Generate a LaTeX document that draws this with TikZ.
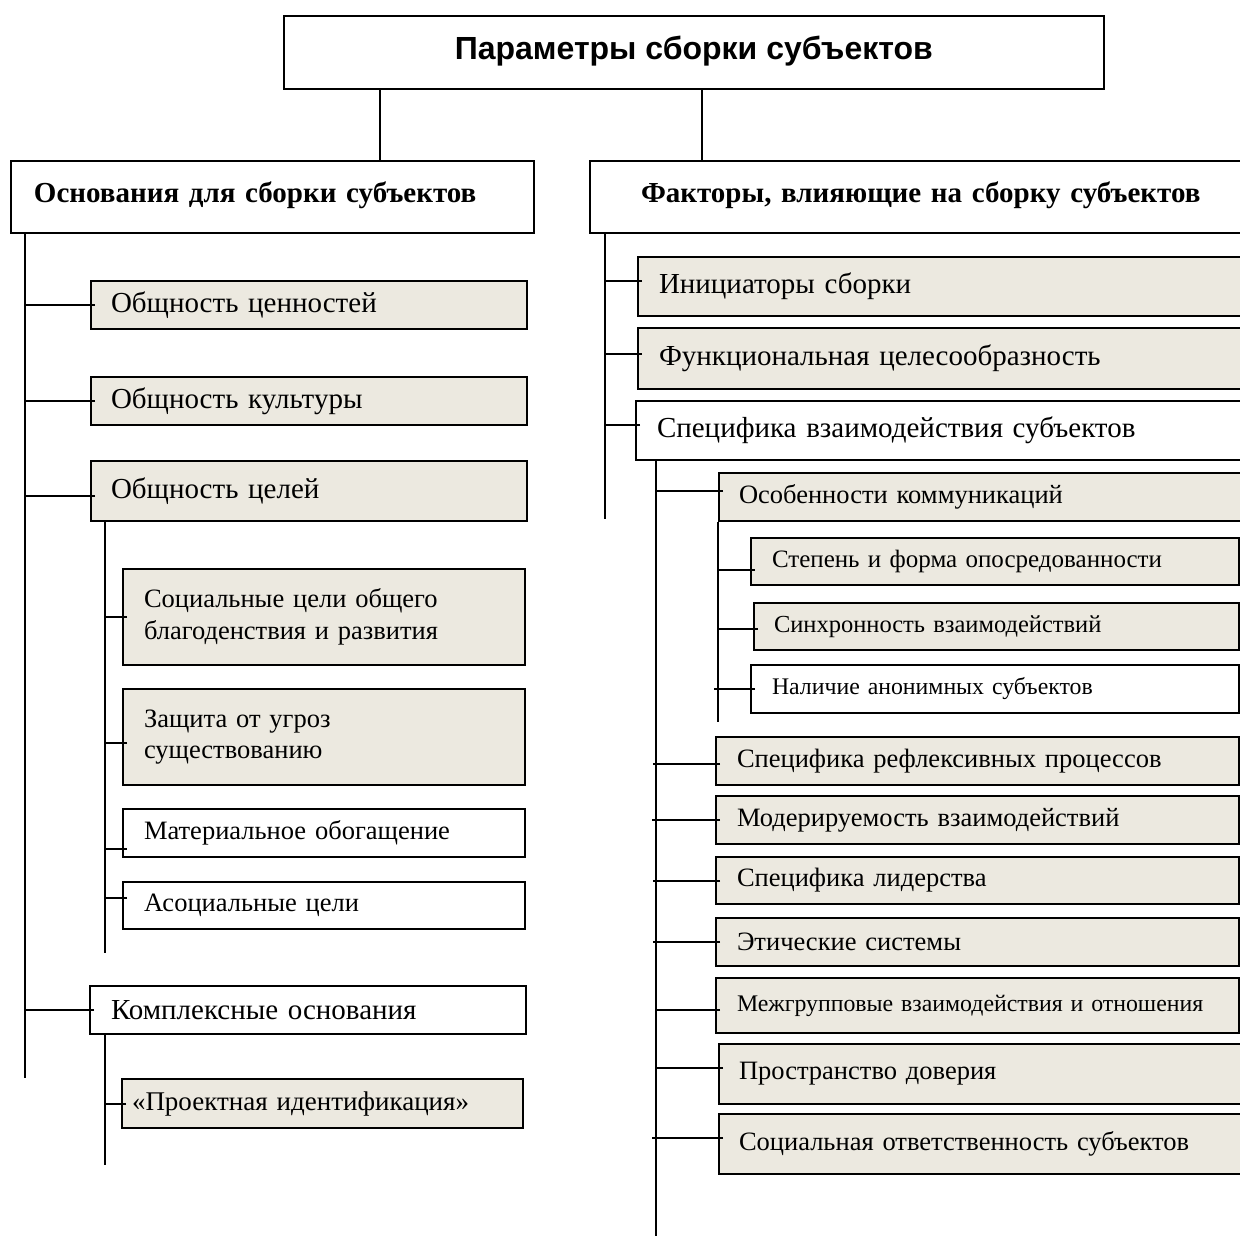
\documentclass[tikz,border=0pt]{standalone}
\usepackage{fontspec}
\setmainfont{Liberation Serif}
\newfontfamily\sansfam{Liberation Sans}
\definecolor{boxfill}{RGB}{236,233,224}
\newcommand\fsz[1]{\fontsize{#1pt}{\dimexpr #1pt*6/5\relax}\selectfont}
\newcommand\mkbox[8]{%
  \pgfmathsetmacro\bxw{#4-#2}%
  \pgfmathsetmacro\bxh{#5-#3}%
  \pgfmathsetmacro\bxt{#4-#2-2*#7}%
  \node[#6, anchor=north west, minimum width=\bxw pt, minimum height=\bxh pt,
        inner xsep=#7pt, inner ysep=0pt, text width=\bxt pt, align=left] (#1) at (#2,#3) {#8};}
\newcommand\mkconn[4]{%
  \path ([yshift={-(#3)*1pt}, xshift=5pt]#1.west) coordinate (cA);
  \path (cA -| #2) coordinate (cB);
  \draw[conn] (cA) -- ([xshift={-(#4)*1pt}]cB);}
\begin{document}
\begin{tikzpicture}[x=1pt,y=-1pt,
  conn/.style={line width=2pt, black},
  plain/.style={draw=black, line width=2pt, fill=white},
  shaded/.style={draw=black, line width=2pt, fill=boxfill},
  fbig/.style={font=\fsz{29}},
  fmid/.style={font=\fsz{26.5}},
  fsml/.style={font=\fsz{24.5}},
  fhdr/.style={font=\bfseries\fsz{29}}]
\useasboundingbox (0,0) rectangle (1240,1236);
\clip (0,0) rectangle (1240,1236);
\fill[white] (0,0) rectangle (1240,1236);

% top
\node[draw=black, line width=1.6pt, fill=white, anchor=north west, minimum width=820pt, minimum height=73pt,
      text depth=10pt, font=\sansfam\bfseries\fsz{32}] (top) at (283,15) {Параметры сборки субъектов};

% headers
\mkbox{hdrL}{10}{160}{533}{232}{plain,fhdr,text depth=10pt}{23}{Основания для сборки субъектов}
\mkbox{hdrR}{589}{160}{1320}{232}{plain,fhdr,text depth=10pt}{51}{Факторы, влияющие на сборку субъектов}

\coordinate (tl) at (380,0);
\coordinate (tr) at (702,0);
\draw[conn] (tl |- top.south) -- (tl |- hdrL.north);
\draw[conn] (tr |- top.south) -- (tr |- hdrR.north);

% left column
\mkbox{l1}{90}{280}{526}{328}{shaded,fbig}{20}{Общность ценностей}
\mkbox{l2}{90}{376}{526}{424}{shaded,fbig}{20}{Общность культуры}
\mkbox{l3}{90}{460}{526}{520}{shaded,fbig}{20}{Общность целей}
\mkbox{l31}{122}{568}{524}{664}{shaded,fmid}{21}{Социальные цели общего\\благоденствия и развития}
\mkbox{l32}{122}{688}{524}{784}{shaded,fmid}{21}{Защита от угроз\\существованию}
\mkbox{l33}{122}{808}{524}{856}{plain,fmid}{21}{Материальное обогащение}
\mkbox{l34}{122}{881}{524}{928}{plain,fmid}{21}{Асоциальные цели}
\mkbox{l4}{89}{985}{525}{1033}{plain,fbig}{21}{Комплексные основания}
\mkbox{l41}{121}{1078}{522}{1127}{shaded,font=\fsz{27}}{10}{«Проектная идентификация»}

\coordinate (LT) at (25,1078);
\coordinate (LA) at (105,953);
\coordinate (LB) at (105,1165);
\draw[conn] (LT |- hdrL.south) -- (LT);
\draw[conn] (LA |- l3.south) -- (LA);
\draw[conn] (LB |- l4.south) -- (LB);
\mkconn{l1}{LT}{0}{0}
\mkconn{l2}{LT}{0}{0}
\mkconn{l3}{LT}{5}{0}
\mkconn{l31}{LA}{0}{0}
\mkconn{l32}{LA}{6}{0}
\mkconn{l33}{LA}{16}{0}
\mkconn{l34}{LA}{-8}{0}
\mkconn{l4}{LT}{0}{0}
\mkconn{l41}{LB}{0}{0}

% right column
\mkbox{r1}{637}{256}{1260}{315}{shaded,fbig}{21}{Инициаторы сборки}
\mkbox{r2}{637}{327}{1260}{388}{shaded,fbig}{21}{Функциональная целесообразность}
\mkbox{r3}{635}{400}{1260}{459}{plain,fbig}{21}{Специфика взаимодействия субъектов}
\mkbox{r31}{718}{472}{1260}{520}{shaded,fmid}{20}{Особенности коммуникаций}
\mkbox{r311}{750}{537}{1238}{584}{shaded,font=\fsz{25}}{21}{Степень и форма опосредованности}
\mkbox{r312}{753}{602}{1238}{649}{shaded,font=\fsz{24.5}}{20}{Синхронность взаимодействий}
\mkbox{r313}{750}{664}{1238}{712}{plain,font=\fsz{23.8}}{21}{Наличие анонимных субъектов}
\mkbox{r32}{715}{736}{1238}{784}{shaded,fmid}{21}{Специфика рефлексивных процессов}
\mkbox{r33}{715}{795}{1238}{843}{shaded,fmid}{21}{Модерируемость взаимодействий}
\mkbox{r34}{715}{856}{1238}{903}{shaded,fmid}{21}{Специфика лидерства}
\mkbox{r35}{715}{917}{1238}{965}{shaded,fmid}{21}{Этические системы}
\mkbox{r36}{715}{977}{1238}{1032}{shaded,font=\fsz{23.8}}{21}{Межгрупповые взаимодействия и отношения}
\mkbox{r37}{718}{1043}{1260}{1103}{shaded,fmid}{20}{Пространство доверия}
\mkbox{r38}{718}{1113}{1260}{1173}{shaded,fmid}{20}{Социальная ответственность субъектов}

\coordinate (RT) at (605,519);
\coordinate (RA) at (656,1236);
\coordinate (RB) at (718,722);
\draw[conn] (RT |- hdrR.south) -- (RT);
\draw[conn] (RA |- r3.south) -- (RA);
\draw[conn] (RB |- r31.south) -- (RB);
\mkconn{r1}{RT}{-6}{0}
\mkconn{r2}{RT}{-5}{0}
\mkconn{r3}{RT}{-6}{0}
\mkconn{r31}{RA}{-6}{0}
\mkconn{r311}{RB}{8}{0}
\mkconn{r312}{RB}{2}{0}
\mkconn{r313}{RB}{0}{4}
\mkconn{r32}{RA}{3}{3}
\mkconn{r33}{RA}{0}{4}
\mkconn{r34}{RA}{0}{3}
\mkconn{r35}{RA}{0}{3}
\mkconn{r36}{RA}{4}{0}
\mkconn{r37}{RA}{-6}{0}
\mkconn{r38}{RA}{-6}{4}
\end{tikzpicture}
\end{document}
